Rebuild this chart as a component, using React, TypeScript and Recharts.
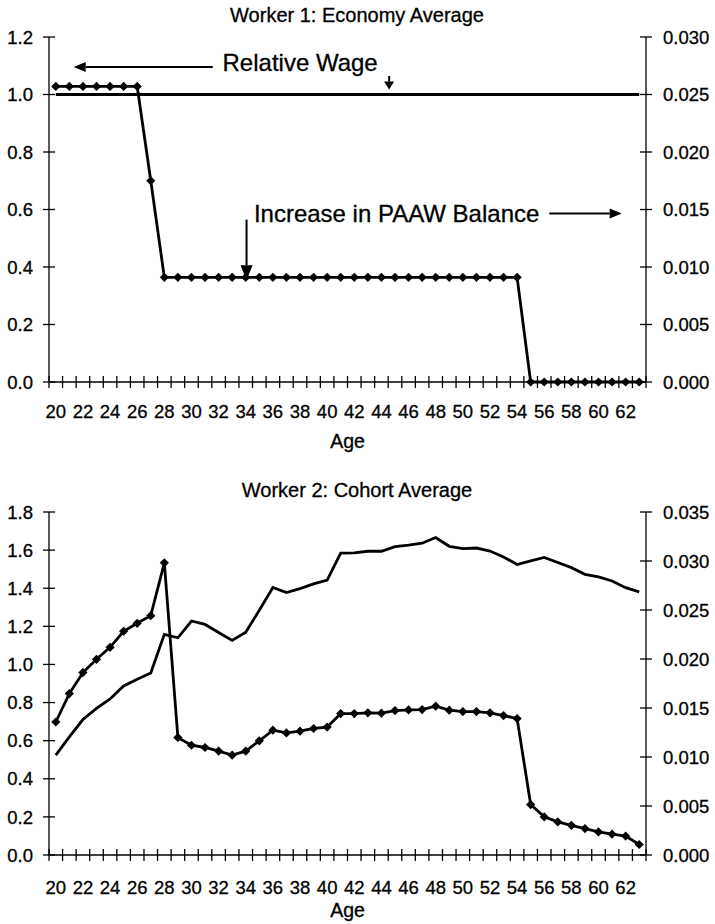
import { LineChart, Line, XAxis, YAxis, ReferenceLine, ReferenceDot } from "recharts";

const FONT = "Arial, 'Liberation Sans', Helvetica, sans-serif";

const AGES = [
  20, 21, 22, 23, 24, 25, 26, 27, 28, 29, 30, 31, 32, 33, 34, 35, 36, 37, 38, 39, 40, 41,
  42, 43, 44, 45, 46, 47, 48, 49, 50, 51, 52, 53, 54, 55, 56, 57, 58, 59, 60, 61, 62, 63,
];
const AGE_LABELS = [20, 22, 24, 26, 28, 30, 32, 34, 36, 38, 40, 42, 44, 46, 48, 50, 52, 54, 56, 58, 60, 62];

// Worker 1: Economy Average
const W1_WAGE = [
  1.0, 1.0, 1.0, 1.0, 1.0, 1.0, 1.0, 1.0, 1.0, 1.0, 1.0, 1.0, 1.0, 1.0, 1.0, 1.0, 1.0, 1.0, 1.0, 1.0, 1.0, 1.0,
  1.0, 1.0, 1.0, 1.0, 1.0, 1.0, 1.0, 1.0, 1.0, 1.0, 1.0, 1.0, 1.0, 1.0, 1.0, 1.0, 1.0, 1.0, 1.0, 1.0, 1.0, 1.0,
];
const W1_PAAW = [
  0.0257, 0.0257, 0.0257, 0.0257, 0.0257, 0.0257, 0.0257, 0.0175, 0.0091, 0.0091, 0.0091, 0.0091, 0.0091,
  0.0091, 0.0091, 0.0091, 0.0091, 0.0091, 0.0091, 0.0091, 0.0091, 0.0091, 0.0091, 0.0091, 0.0091, 0.0091,
  0.0091, 0.0091, 0.0091, 0.0091, 0.0091, 0.0091, 0.0091, 0.0091, 0.0091, 0, 0, 0, 0, 0, 0, 0, 0, 0,
];
const W1_LEFT_TICKS = [0, 0.2, 0.4, 0.6, 0.8, 1.0, 1.2];
const W1_RIGHT_TICKS = [0, 0.005, 0.01, 0.015, 0.02, 0.025, 0.03];

// Worker 2: Cohort Average
const W2_WAGE = [
  0.524, 0.62, 0.711, 0.769, 0.819, 0.887, 0.922, 0.955, 1.158, 1.14, 1.228, 1.21, 1.168, 1.126, 1.169,
  1.284, 1.404, 1.377, 1.398, 1.423, 1.443, 1.584, 1.585, 1.594, 1.594, 1.618, 1.626, 1.636, 1.666, 1.62,
  1.608, 1.611, 1.595, 1.564, 1.524, 1.543, 1.562, 1.535, 1.508, 1.473, 1.459, 1.438, 1.403, 1.381,
];
const W2_PAAW = [
  0.01357, 0.01647, 0.01861, 0.01997, 0.02119, 0.02283, 0.02364, 0.02442, 0.02981, 0.01198, 0.0112,
  0.01097, 0.0106, 0.01019, 0.0106, 0.01165, 0.01274, 0.01246, 0.01264, 0.01291, 0.01305, 0.01443,
  0.01443, 0.01451, 0.01447, 0.01474, 0.0148, 0.01484, 0.01519, 0.01478, 0.01464, 0.01464, 0.01451,
  0.01423, 0.01392, 0.00515, 0.00389, 0.00338, 0.00303, 0.0027, 0.00235, 0.00212, 0.00193, 0.00107,
];
const W2_LEFT_TICKS = [0, 0.2, 0.4, 0.6, 0.8, 1.0, 1.2, 1.4, 1.6, 1.8];
const W2_RIGHT_TICKS = [0, 0.005, 0.01, 0.015, 0.02, 0.025, 0.03, 0.035];

const w1Data = AGES.map((age, i) => ({ age, wage: W1_WAGE[i], paaw: W1_PAAW[i] }));
const w2Data = AGES.map((age, i) => ({ age, wage: W2_WAGE[i], paaw: W2_PAAW[i] }));

// tick marks sit between categories, labels on every other age
const X_DOMAIN = [AGES[0] - 0.5, AGES[AGES.length - 1] + 0.5];
const BOUNDARIES = AGES.map((a) => a - 0.5).concat(AGES[AGES.length - 1] + 0.5);
const X_TICKS = [...BOUNDARIES, ...AGE_LABELS].sort((a, b) => a - b);

const AXIS = { stroke: "#000", strokeWidth: 1.3 };
const TICK_FS = 18.5;
// scanned original prints a touch heavier than plain Arial
const INK = { fill: "#000", stroke: "#000", strokeWidth: 0.3 };

function LeftTick(props: any) {
  const { x, y, payload } = props;
  return (
    <g>
      <line x1={x - 6} x2={x + 6} y1={y} y2={y} {...AXIS} />
      <text x={x - 16} y={y} dy="0.36em" textAnchor="end" fontSize={TICK_FS} fontFamily={FONT} {...INK}>
        {payload.value.toFixed(1)}
      </text>
    </g>
  );
}

function RightTick(props: any) {
  const { x, y, payload } = props;
  return (
    <g>
      <line x1={x - 6} x2={x + 6} y1={y} y2={y} {...AXIS} />
      <text x={x + 17} y={y} dy="0.36em" textAnchor="start" fontSize={TICK_FS} fontFamily={FONT} {...INK}>
        {payload.value.toFixed(3)}
      </text>
    </g>
  );
}

function makeXTick(baseline: number) {
  return (props: any) => {
    const { x, y, payload } = props;
    if (Number.isInteger(payload.value)) {
      return (
        <text x={x} y={y + baseline} textAnchor="middle" fontSize={TICK_FS} fontFamily={FONT} {...INK}>
          {payload.value}
        </text>
      );
    }
    return <line x1={x} x2={x} y1={y - 6} y2={y + 6} {...AXIS} />;
  };
}

function Diamond(props: any) {
  const { cx, cy, index } = props;
  if (cx == null || cy == null) return <g key={index} />;
  const r = 4.6;
  return (
    <polygon
      key={index}
      points={`${cx},${cy - r} ${cx + r},${cy} ${cx},${cy + r} ${cx - r},${cy}`}
      fill="#000"
    />
  );
}

function arrow(len: number, half: number) {
  return (p: any) => {
    const { x1, y1, x2, y2 } = p;
    const dx = x2 - x1;
    const dy = y2 - y1;
    const d = Math.sqrt(dx * dx + dy * dy) || 1;
    const ux = dx / d;
    const uy = dy / d;
    const bx = x2 - ux * len;
    const by = y2 - uy * len;
    return (
      <g>
        <line x1={x1} y1={y1} x2={bx} y2={by} stroke="#000" strokeWidth={2} />
        <polygon
          points={`${x2},${y2} ${bx - uy * half},${by + ux * half} ${bx + uy * half},${by - ux * half}`}
          fill="#000"
        />
      </g>
    );
  };
}

function note(text: string) {
  return (p: any) => (
    <text x={p.cx} y={p.cy} fontSize={24} fontFamily={FONT} {...INK}>
      {text}
    </text>
  );
}

interface PanelProps {
  data: { age: number; wage: number; paaw: number }[];
  leftTicks: number[];
  rightTicks: number[];
  height: number;
  marginTop: number;
  xAxisHeight: number;
  tickBaseline: number;
  ageOffset: number;
  wageWidth: number;
  annotate?: boolean;
}

function Panel(p: PanelProps) {
  const leftMax = p.leftTicks[p.leftTicks.length - 1];
  const rightMax = p.rightTicks[p.rightTicks.length - 1];
  return (
    <LineChart
      width={715}
      height={p.height}
      data={p.data}
      margin={{ top: p.marginTop, right: 9, bottom: 0, left: 9 }}
    >
      <XAxis
        xAxisId="x"
        dataKey="age"
        type="number"
        domain={X_DOMAIN}
        ticks={X_TICKS}
        interval={0}
        height={p.xAxisHeight}
        tickSize={0}
        tickMargin={0}
        tickLine={false}
        axisLine={AXIS}
        tick={makeXTick(p.tickBaseline)}
        label={{
          value: "Age",
          position: "insideBottom",
          offset: p.ageOffset,
          fontSize: 19.5,
          fontFamily: FONT,
          ...INK,
        }}
      />
      <XAxis
        xAxisId="top"
        orientation="top"
        dataKey="age"
        type="number"
        domain={X_DOMAIN}
        height={0}
        tick={false}
        tickLine={false}
        axisLine={AXIS}
      />
      <YAxis
        yAxisId="left"
        width={40}
        domain={[0, leftMax]}
        ticks={p.leftTicks}
        interval={0}
        tickSize={0}
        tickMargin={0}
        tickLine={false}
        axisLine={AXIS}
        tick={LeftTick}
      />
      <YAxis
        yAxisId="right"
        orientation="right"
        width={60}
        domain={[0, rightMax]}
        ticks={p.rightTicks}
        interval={0}
        tickSize={0}
        tickMargin={0}
        tickLine={false}
        axisLine={AXIS}
        tick={RightTick}
      />
      <Line
        xAxisId="x"
        yAxisId="left"
        type="linear"
        dataKey="wage"
        stroke="#000"
        strokeWidth={p.wageWidth}
        dot={false}
        activeDot={false}
        isAnimationActive={false}
      />
      <Line
        xAxisId="x"
        yAxisId="right"
        type="linear"
        dataKey="paaw"
        stroke="#000"
        strokeWidth={2.8}
        dot={Diamond}
        activeDot={false}
        isAnimationActive={false}
      />
      {p.annotate && (
        <>
          <ReferenceLine
            xAxisId="x"
            yAxisId="left"
            segment={[{ x: 31.57, y: 1.096 }, { x: 21.32, y: 1.096 }]}
            shape={arrow(12, 5)}
          />
          <ReferenceDot xAxisId="x" yAxisId="left" x={32.29} y={1.082} r={0} shape={note("Relative Wage")} />
          <ReferenceLine
            xAxisId="x"
            yAxisId="left"
            segment={[{ x: 44.57, y: 1.064 }, { x: 44.57, y: 1.017 }]}
            shape={arrow(8, 5)}
          />
          <ReferenceDot
            xAxisId="x"
            yAxisId="left"
            x={34.6}
            y={0.555}
            r={0}
            shape={note("Increase in PAAW Balance")}
          />
          <ReferenceLine
            xAxisId="x"
            yAxisId="left"
            segment={[{ x: 56.37, y: 0.586 }, { x: 61.71, y: 0.586 }]}
            shape={arrow(12, 5)}
          />
          <ReferenceLine
            xAxisId="x"
            yAxisId="left"
            segment={[{ x: 34.06, y: 0.565 }, { x: 34.06, y: 0.354 }]}
            shape={arrow(15, 6)}
          />
        </>
      )}
    </LineChart>
  );
}

export default function App() {
  return (
    <div style={{ position: "absolute", left: 0, top: 0, width: 715, height: 924, background: "#fff" }}>
      <div style={{ position: "absolute", left: 0, top: 0 }}>
        <Panel
          data={w1Data}
          leftTicks={W1_LEFT_TICKS}
          rightTicks={W1_RIGHT_TICKS}
          height={460}
          marginTop={37}
          xAxisHeight={78}
          tickBaseline={35.6}
          ageOffset={12}
          wageWidth={3}
          annotate
        />
      </div>
      <div style={{ position: "absolute", left: 0, top: 460 }}>
        <Panel
          data={w2Data}
          leftTicks={W2_LEFT_TICKS}
          rightTicks={W2_RIGHT_TICKS}
          height={464}
          marginTop={52}
          xAxisHeight={69}
          tickBaseline={38.5}
          ageOffset={7}
          wageWidth={2.8}
        />
      </div>
      <svg
        width={715}
        height={924}
        style={{ position: "absolute", left: 0, top: 0, pointerEvents: "none" }}
      >
        <text x={357} y={21.7} textAnchor="middle" fontSize={20} fontFamily={FONT} {...INK}>
          Worker 1: Economy Average
        </text>
        <text x={357} y={496.7} textAnchor="middle" fontSize={20} fontFamily={FONT} {...INK}>
          Worker 2: Cohort Average
        </text>
      </svg>
    </div>
  );
}
